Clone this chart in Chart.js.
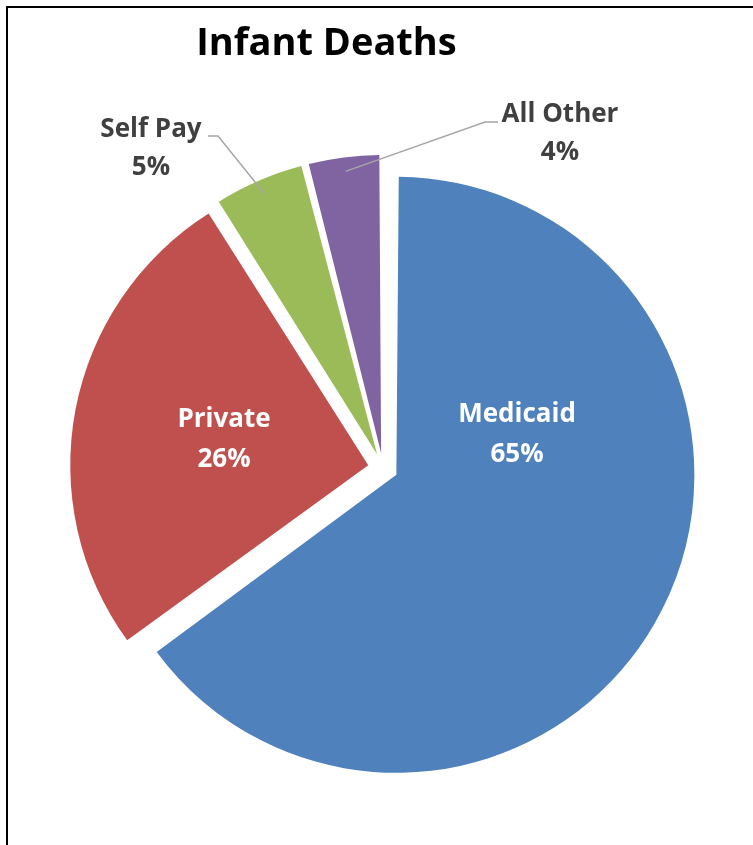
<!DOCTYPE html>
<html>
<head>
<meta charset="utf-8">
<script src="https://cdn.jsdelivr.net/npm/chart.js@4"></script>
<style>
    html, body { margin: 0; padding: 0; background: #fff; }
    #wrap { position: relative; width: 753px; height: 845px; }
    #frame {
        position: absolute; left: 6px; top: 6px; right: 0; bottom: 0;
        border-left: 2px solid #000; border-top: 2px solid #000;
        pointer-events: none;
    }
    canvas { position: absolute; left: 0; top: 0; }
</style>
</head>
<body>
<div id="wrap">
    <canvas id="infantPie" width="753" height="845"></canvas>
    <div id="frame"></div>
</div>
<script>

// ============================
// DATA
// ============================

const chartTitle = 'Infant Deaths';

const categories = ['Medicaid', 'Private', 'Self Pay', 'All Other'];

const shares = [65, 26, 5, 4];

const sliceColors = ['#4F81BD', '#C0504D', '#9BBB59', '#8064A2'];


// pie geometry
const PIE_RADIUS = 298;
const EXPLODE = 60;          // chart.js moves a slice by offset / 4


// label placement (centre x, first baseline, line gap)
const labelSpots = [
    { x: 517, y: 422, gap: 40, color: '#FFFFFF' },
    { x: 224, y: 427, gap: 40, color: '#FFFFFF' },
    { x: 151, y: 137, gap: 38, color: '#404040', elbow: [[218, 136], [208, 136]] },
    { x: 560, y: 122, gap: 38, color: '#404040', elbow: [[485, 122], [498, 122]] }
];

const LABEL_FONT = 'bold 26px "Open Sans", Lato, sans-serif';
const TITLE_FONT = 'bold 38px "Open Sans", Lato, sans-serif';


// ============================
// PLUGINS
// ============================

// keep every exploded slice at the same outer radius
const evenRadius = {
    id: 'evenRadius',
    beforeDatasetsDraw(chart) {
        chart.getDatasetMeta(0).data.forEach(arc => {
            const circ = arc.endAngle - arc.startAngle;
            const grow = (EXPLODE / 4) * (1 - Math.sin(Math.min(Math.PI, circ)));
            arc.outerRadius = PIE_RADIUS - grow;
        });
    }
};

const sliceLabels = {
    id: 'sliceLabels',
    afterDatasetsDraw(chart) {
        const ctx = chart.ctx;
        const arcs = chart.getDatasetMeta(0).data;

        ctx.save();

        // title
        ctx.font = TITLE_FONT;
        ctx.fillStyle = '#000000';
        ctx.textAlign = 'center';
        ctx.textBaseline = 'alphabetic';
        ctx.fillText(chartTitle, 326.5, 55);

        arcs.forEach((arc, i) => {
            const spot = labelSpots[i];

            if (spot.elbow) {
                const mid = (arc.startAngle + arc.endAngle) / 2;
                const shift = EXPLODE / 4;
                const r = PIE_RADIUS - 14;
                const px = arc.x + Math.cos(mid) * (shift + r);
                const py = arc.y + Math.sin(mid) * (shift + r);

                ctx.beginPath();
                ctx.moveTo(px, py);
                spot.elbow.forEach(p => ctx.lineTo(p[0], p[1]));
                ctx.strokeStyle = '#A6A6A6';
                ctx.lineWidth = 1.5;
                ctx.stroke();
            }

            ctx.font = LABEL_FONT;
            ctx.fillStyle = spot.color;
            ctx.textAlign = 'center';
            ctx.fillText(categories[i], spot.x, spot.y);
            ctx.fillText(shares[i] + '%', spot.x, spot.y + spot.gap);
        });

        ctx.restore();
    }
};


// ============================
// PIE CHART
// ============================

const pieCtx = document
    .getElementById('infantPie')
    .getContext('2d');

new Chart(pieCtx, {

    type: 'pie',

    data: {
        labels: categories,
        datasets: [{
            data: shares,
            backgroundColor: sliceColors,
            borderWidth: 0,
            offset: EXPLODE,
            hoverOffset: 0
        }]
    },

    options: {
        responsive: false,
        animation: false,
        radius: PIE_RADIUS,
        layout: {
            padding: { left: 50, right: 37, top: 140, bottom: 49 }
        },
        plugins: {
            legend: { display: false },
            tooltip: { enabled: false },
            title: { display: false }
        }
    },

    plugins: [evenRadius, sliceLabels]

});

</script>
</body>
</html>
